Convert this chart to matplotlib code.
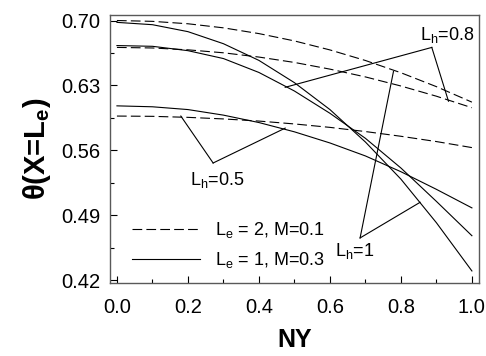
import matplotlib
matplotlib.use("Agg")
import matplotlib.pyplot as plt
from matplotlib.ticker import MultipleLocator, FormatStrFormatter

plt.rcParams["font.family"] = ["Liberation Sans", "DejaVu Sans"]
plt.rcParams["mathtext.fontset"] = "custom"
plt.rcParams["mathtext.rm"] = "Liberation Sans"
plt.rcParams["mathtext.bf"] = "Liberation Sans:bold"
plt.rcParams["lines.scale_dashes"] = False

# NY positions shared by all curves
ny = [0.0, 0.1, 0.2, 0.3, 0.4, 0.5, 0.6, 0.7, 0.8, 0.9, 1.0]

# L_e = 2, M = 0.1 (dashed)
dash_lh1 = [0.7000, 0.6991, 0.6965, 0.6921, 0.6859, 0.6780, 0.6683, 0.6569, 0.6437, 0.6287, 0.6120]
dash_lh08 = [0.6710, 0.6704, 0.6684, 0.6652, 0.6606, 0.6548, 0.6476, 0.6392, 0.6294, 0.6184, 0.6060]
dash_lh05 = [0.5970, 0.5967, 0.5956, 0.5939, 0.5916, 0.5885, 0.5848, 0.5803, 0.5752, 0.5695, 0.5630]

# L_e = 1, M = 0.3 (solid)
solid_lh1 = [0.698, 0.6955, 0.688, 0.675, 0.657, 0.633, 0.604, 0.569, 0.529, 0.482, 0.430]
solid_lh08 = [0.673, 0.6722, 0.6675, 0.659, 0.644, 0.624, 0.600, 0.573, 0.541, 0.505, 0.468]
solid_lh05 = [0.608, 0.607, 0.604, 0.598, 0.590, 0.580, 0.568, 0.554, 0.537, 0.518, 0.498]

legend_labels = [r"L$_\mathrm{e}$ = 2, M=0.1", r"L$_\mathrm{e}$ = 1, M=0.3"]

# label text, text position, pointer vertex, pointer ends
callouts = [
    (r"L$_\mathrm{h}$=0.5", (0.282, 0.528), (0.271, 0.5464), [(0.18, 0.597), (0.474, 0.584)]),
    (r"L$_\mathrm{h}$=0.8", (0.93, 0.6846), (0.887, 0.671), [(0.474, 0.628), (0.934, 0.613)]),
    (r"L$_\mathrm{h}$=1", (0.671, 0.451), (0.685, 0.4656), [(0.779, 0.645), (0.854, 0.504)]),
]

fig = plt.figure(figsize=(4.86, 3.56), dpi=100)
ax = fig.add_axes([0.226, 0.205, 0.7596, 0.753])

lw = 0.8
dash = (7, 3)
for i, ys in enumerate([dash_lh1, dash_lh08, dash_lh05]):
    ax.plot(ny, ys, color="black", lw=lw, dashes=dash,
            label=legend_labels[0] if i == 0 else None)
for i, ys in enumerate([solid_lh1, solid_lh08, solid_lh05]):
    ax.plot(ny, ys, color="black", lw=lw, ls="-",
            label=legend_labels[1] if i == 0 else None)

for text, tpos, vtx, ends in callouts:
    for e in ends:
        ax.plot([vtx[0], e[0]], [vtx[1], e[1]], color="black", lw=lw)
    ax.text(tpos[0], tpos[1], text, fontsize=13, ha="center", va="center")

ax.set_xlim(-0.02, 1.02)
ax.set_ylim(0.417, 0.706)
ax.xaxis.set_major_locator(MultipleLocator(0.2))
ax.xaxis.set_minor_locator(MultipleLocator(0.1))
ax.yaxis.set_major_locator(MultipleLocator(0.07))
ax.yaxis.set_minor_locator(MultipleLocator(0.035))
ax.xaxis.set_major_formatter(FormatStrFormatter("%.1f"))
ax.yaxis.set_major_formatter(FormatStrFormatter("%.2f"))
ax.tick_params(which="both", direction="in", top=False, right=False,
               labelsize=14.5, width=0.8)
ax.tick_params(axis="x", pad=11)
ax.tick_params(axis="y", pad=7)
ax.tick_params(which="major", length=5)
ax.tick_params(which="minor", length=3)
for s in ax.spines.values():
    s.set_color("0.35")
    s.set_linewidth(1.0)

ax.set_xlabel("NY", fontsize=18, fontweight="bold", labelpad=8)
ax.set_ylabel(r"θ(X=L$_\mathbf{e}$)", fontsize=21, fontweight="bold", labelpad=6)

ax.legend(loc="lower left", frameon=False, fontsize=13, handlelength=3.8,
          borderaxespad=0.3, labelspacing=0.55, handletextpad=0.8,
          bbox_to_anchor=(0.025, 0.0))

fig.savefig("out.png", dpi=100)
